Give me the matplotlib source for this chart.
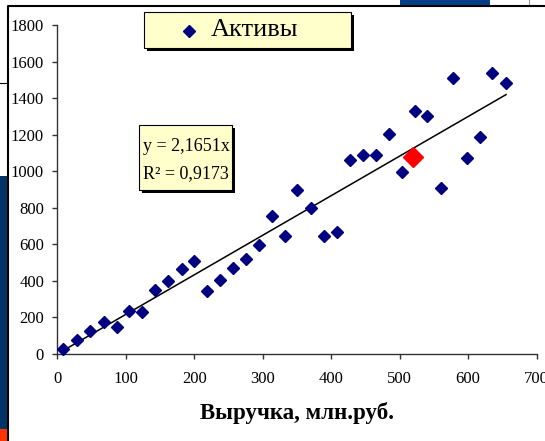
import matplotlib
matplotlib.use('Agg')
import matplotlib.pyplot as plt
from matplotlib.patches import Rectangle
from matplotlib.lines import Line2D

# ---- data ----
revenue = [8.8, 29.2, 47.8, 68.2, 86.8, 105.2, 123.7, 142.7, 162.2, 181.7,
           200.1, 218.7, 237.7, 257.1, 275.7, 294.2, 313.7, 332.7, 349.7, 370.2,
           389.6, 409.0, 427.6, 447.0, 465.2, 485.0, 503.0, 522.6, 540.5, 560.6,
           578.5, 598.0, 617.5, 635.5, 655.5]
assets = [26, 77, 124, 175, 149, 235, 230, 350, 399, 465,
          507, 345, 406, 472, 518, 598, 755, 644, 900, 797,
          646, 667, 1061, 1090, 1090, 1202, 996, 1331, 1304, 908,
          1510, 1071, 1189, 1536, 1485]
highlight_x = [519.2]
highlight_y = [1080]
slope = 2.1651
r_squared = 0.9173
x_ticks = [0, 100, 200, 300, 400, 500, 600, 700]
y_ticks = [0, 200, 400, 600, 800, 1000, 1200, 1400, 1600, 1800]
series_name = "Активы"
x_title = "Выручка, млн.руб."

plt.rcParams['font.family'] = ['Liberation Serif', 'DejaVu Serif']

W, H = 545, 441
fig = plt.figure(figsize=(W / 100, H / 100), dpi=100)
fig.patch.set_facecolor('white')


def fx(x):
    return x / W


def fy(y):
    return 1 - y / H


# background artifacts (screenshot surroundings)
fig.patches.append(Rectangle((fx(0), fy(429)), fx(7), fy(176) - fy(429),
                             transform=fig.transFigure, facecolor='#003366',
                             edgecolor='none', zorder=0))
fig.patches.append(Rectangle((fx(0), fy(441)), fx(7), fy(429) - fy(441),
                             transform=fig.transFigure, facecolor='#ff3300',
                             edgecolor='none', zorder=0))
fig.patches.append(Rectangle((fx(400), fy(6)), fx(90), fy(0) - fy(6),
                             transform=fig.transFigure, facecolor='#003f87',
                             edgecolor='none', zorder=0))
fig.lines.append(Line2D([fx(0), fx(7)], [fy(83), fy(83)], transform=fig.transFigure,
                        color='black', lw=0.8))
fig.lines.append(Line2D([fx(529), fx(529)], [fy(0), fy(6)], transform=fig.transFigure,
                        color='#999999', lw=0.8))
# chart area frame
fig.lines.append(Line2D([fx(7.5), fx(7.5), fx(545)], [fy(441), fy(6), fy(6)],
                        transform=fig.transFigure, color='black', lw=1.5))

# axes
left_px, right_px, top_px, bottom_px = 57.3, 536.5, 25, 354
ax = fig.add_axes([fx(left_px), fy(bottom_px), fx(right_px - left_px),
                   (bottom_px - top_px) / H])
ax.set_facecolor('none')
ax.set_xlim(x_ticks[0], x_ticks[-1])
ax.set_ylim(y_ticks[0], y_ticks[-1])
ax.set_xticks(x_ticks)
ax.set_yticks(y_ticks)
for s in ['top', 'right']:
    ax.spines[s].set_visible(False)
for s in ['left', 'bottom']:
    ax.spines[s].set_color('#333333')
    ax.spines[s].set_linewidth(1.0)
ax.tick_params(axis='both', direction='out', length=3.5, width=1.0,
               color='#333333', labelsize=12)
ax.tick_params(axis='x', pad=8.5)
ax.tick_params(axis='y', pad=6)

# trend line
xs = [min(revenue), max(revenue)]
ax.plot(xs, [slope * v for v in xs], color='black', lw=1.1, zorder=2,
        clip_on=False)
# points
ax.plot(revenue, assets, linestyle='none', marker='D', markersize=6.2,
        color='#000080', zorder=3, clip_on=False)
ax.plot(highlight_x, highlight_y, linestyle='none', marker='D', markersize=10.5,
        color='#ff0000', zorder=4, clip_on=False)

ax.set_xlabel(x_title, fontsize=16.5, fontweight='bold', labelpad=11)


def shadow_box(x0, y0, x1, y1, face):
    fig.patches.append(Rectangle((fx(x0 + 3), fy(y1 + 3)), fx(x1 - x0), fy(y0) - fy(y1),
                                 transform=fig.transFigure, facecolor='black',
                                 edgecolor='none', zorder=5))
    fig.patches.append(Rectangle((fx(x0), fy(y1)), fx(x1 - x0), fy(y0) - fy(y1),
                                 transform=fig.transFigure, facecolor=face,
                                 edgecolor='black', lw=0.8, zorder=6))


# legend
shadow_box(144, 11.7, 350.5, 47.5, '#ffffcc')
fig.lines.append(Line2D([fx(189.3)], [fy(31)], transform=fig.transFigure,
                        marker='D', markersize=6.2, color='#000080', zorder=7))
fig.text(fx(211), fy(30.5), series_name, fontsize=19, va='center', ha='left', zorder=7)

# equation box
shadow_box(139.3, 125.3, 232.3, 190, '#ffffcc')
eq1 = "y = " + f"{slope:.4f}".replace('.', ',') + "x"
eq2 = "R² = " + f"{r_squared:.4f}".replace('.', ',')
fig.text(fx(143.3), fy(146.7), eq1, fontsize=13, va='center', ha='left', zorder=7)
fig.text(fx(143.3), fy(174), eq2, fontsize=13, va='center', ha='left', zorder=7)

fig.savefig('out.png', dpi=100, facecolor='white')
